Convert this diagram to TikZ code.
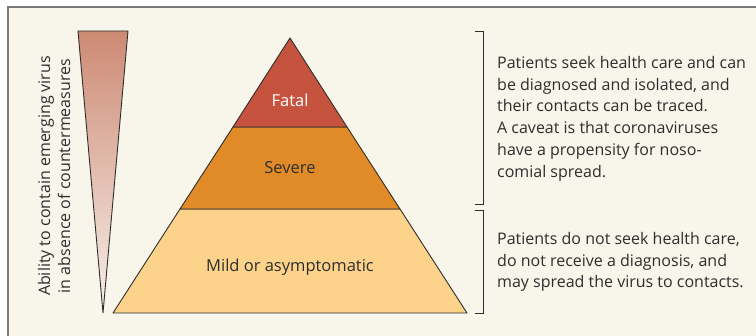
\documentclass[tikz,border=0pt]{standalone}
\usepackage{fontspec}
\setmainfont{Open Sans}
\usetikzlibrary{positioning}
\definecolor{paper}{HTML}{F8F5EA}
\definecolor{framegray}{HTML}{7A7A7A}
\definecolor{inkgray}{HTML}{2E2E2E}
\definecolor{fatalred}{HTML}{C6533E}
\definecolor{severeorange}{HTML}{E08A28}
\definecolor{mildyellow}{HTML}{FDD38C}
\definecolor{wedgetop}{HTML}{CD8A74}
\definecolor{wedgebottom}{HTML}{F8F0EA}
\tikzset{
  layer/.style={draw=inkgray, line width=0.9pt, line join=round},
  layertext/.style={font=\fontsize{16.5}{18}\selectfont, text=inkgray, inner sep=0pt},
  sidetext/.style={font=\fontsize{16}{21.8}\selectfont, text=inkgray, align=left,
    anchor=north west, inner sep=0pt},
  bracket/.style={draw=inkgray, line width=0.9pt}
}
\begin{document}
\begin{tikzpicture}[x=1pt, y=-1pt]
    \useasboundingbox (0,0) rectangle (756,336);
    % frame
    \fill[paper] (8,7) rectangle (756,336);
    \draw[framegray, line width=2pt] (8,336) -- (8,7) -- (756,7);
    % wedge
    \shade[top color=wedgetop, bottom color=wedgebottom, draw=inkgray, line width=0.9pt, line join=round]
        (78,31) -- (128,31) -- (103,313) -- cycle;
    \node[rotate=90, font=\fontsize{16}{20}\selectfont, text=inkgray, align=center, inner sep=0pt] (ability)
        at (54,176) {Ability to contain emerging virus\\in absence of countermeasures};
    % pyramid
    \filldraw[layer, fill=mildyellow] (113,313) -- (467,313) -- (400,209) -- (180,209) -- cycle;
    \filldraw[layer, fill=severeorange] (180,209) -- (400,209) -- (347,127) -- (233,127) -- cycle;
    \filldraw[layer, fill=fatalred] (233,127) -- (347,127) -- (290,38) -- cycle;
    \node[layertext, text=white] (fatal) at (290,100) {Fatal};
    \node[layertext] (severe) at (290,168) {Severe};
    \node[layertext] (mild) at (290,267) {Mild or asymptomatic};
    % brackets
    \draw[bracket] (475,31) -- (483,31) -- (483,204) -- (475,204);
    \draw[bracket] (475,210) -- (483,210) -- (483,313) -- (475,313);
    \node[sidetext] (upper) at (497,56) {Patients seek health care and can\\be diagnosed and isolated, and\\their contacts can be traced.\\A caveat is that coronaviruses\\have a propensity for noso-\\comial spread.};
    \node[sidetext] (lower) at (497,232) {Patients do not seek health care,\\do not receive a diagnosis, and\\may spread the virus to contacts.};
\end{tikzpicture}
\end{document}
